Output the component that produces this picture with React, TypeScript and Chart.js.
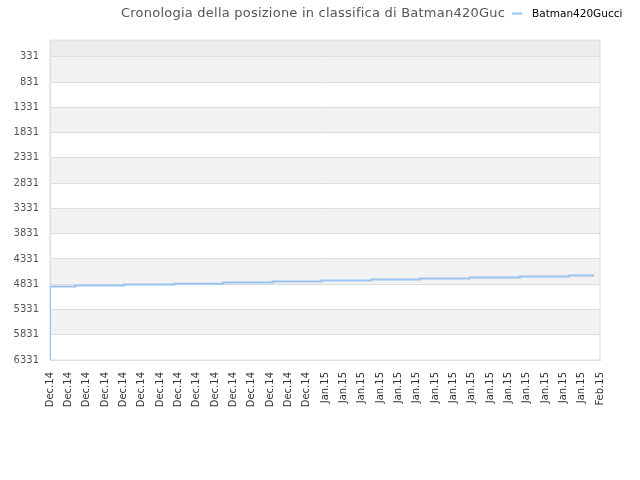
import { useEffect, useRef } from 'react';
import { Chart, ChartConfiguration, Plugin } from 'chart.js/auto';

// tick labels along the bottom (one every ~2 days)
const xLabels = [
  'Dec.14', 'Dec.14', 'Dec.14', 'Dec.14', 'Dec.14', 'Dec.14', 'Dec.14', 'Dec.14',
  'Dec.14', 'Dec.14', 'Dec.14', 'Dec.14', 'Dec.14', 'Dec.14', 'Dec.14',
  'Jan.15', 'Jan.15', 'Jan.15', 'Jan.15', 'Jan.15', 'Jan.15', 'Jan.15', 'Jan.15',
  'Jan.15', 'Jan.15', 'Jan.15', 'Jan.15', 'Jan.15', 'Jan.15', 'Jan.15',
  'Feb.15',
];

const yTicks = [331, 831, 1331, 1831, 2331, 2831, 3331, 3831, 4331, 4831, 5331, 5831, 6331];

// position on the time axis (in tick units) where the rank changes
const stepAt = [0, 0, 1.37, 4.04, 6.78, 9.45, 12.13, 14.81, 17.52, 20.22, 22.9, 25.63, 28.31, 29.67];
const rankValues = [6331, 4879, 4859, 4839, 4820, 4800, 4780, 4760, 4740, 4721, 4701, 4681, 4661, 4661];

const seriesName = 'Batman420Gucci';
const titleText = 'Cronologia della posizione in classifica di Batman420Guc';
const lineColor = '#99c3ef';

const decorations: Plugin = {
  id: 'decorations',
  beforeDraw(chart) {
    const { ctx, chartArea, scales } = chart;
    const y = scales.y;
    ctx.save();
    // top strip above the first tick
    ctx.fillStyle = '#ececec';
    const first = y.getPixelForValue(yTicks[0]);
    ctx.fillRect(chartArea.left, chartArea.top, chartArea.right - chartArea.left, first - chartArea.top);
    // alternating bands
    for (let i = 0; i < yTicks.length - 1; i++) {
      if (i % 2 !== 0) continue;
      const a = y.getPixelForValue(yTicks[i]);
      const b = y.getPixelForValue(yTicks[i + 1]);
      ctx.fillStyle = '#f2f2f2';
      ctx.fillRect(chartArea.left, a, chartArea.right - chartArea.left, b - a);
    }
    ctx.restore();
  },
  beforeDatasetsDraw(chart) {
    const { ctx, chartArea } = chart;
    ctx.save();
    ctx.strokeStyle = '#dddddd';
    ctx.lineWidth = 1;
    ctx.strokeRect(chartArea.left, chartArea.top, chartArea.right - chartArea.left, chartArea.bottom - chartArea.top);
    ctx.restore();
  },
  afterDraw(chart) {
    const { ctx } = chart;
    ctx.save();
    ctx.font = '13px "DejaVu Sans"';
    (ctx as any).letterSpacing = '0.23px';
    ctx.fillStyle = '#555555';
    ctx.textAlign = 'left';
    ctx.textBaseline = 'alphabetic';
    ctx.fillText(titleText, 121, 17);
    (ctx as any).letterSpacing = '0px';
    // legend
    ctx.strokeStyle = lineColor;
    ctx.lineWidth = 2;
    ctx.beginPath();
    ctx.moveTo(512, 13.5);
    ctx.lineTo(522, 13.5);
    ctx.stroke();
    ctx.font = '10.5px "DejaVu Sans"';
    ctx.fillStyle = '#000000';
    ctx.fillText(seriesName, 532, 16.5);
    ctx.restore();
  },
};

export default function App() {
  const canvasRef = useRef<HTMLCanvasElement>(null);

  useEffect(() => {
    document.body.style.margin = '0';
    if (!canvasRef.current) return;

    const config: ChartConfiguration = {
      type: 'line',
      data: {
        datasets: [
          {
            label: seriesName,
            data: stepAt.map((x, i) => ({ x, y: rankValues[i] })),
            borderColor: lineColor,
            backgroundColor: lineColor,
            borderWidth: 2,
            pointRadius: 0,
            stepped: 'before',
            fill: false,
          },
        ],
      },
      options: {
        responsive: false,
        animation: false,
        layout: { padding: { top: 40, right: 40, left: 0, bottom: 0 } },
        plugins: {
          legend: { display: false },
          title: { display: false },
          tooltip: { enabled: false },
        },
        scales: {
          x: {
            type: 'linear',
            min: 0,
            max: xLabels.length - 1,
            afterBuildTicks: (s) => {
              s.ticks = xLabels.map((_, i) => ({ value: i }));
            },
            afterFit: (s) => {
              s.height = 120;
            },
            grid: { display: false, drawTicks: false },
            border: { display: true, color: '#dddddd' },
            ticks: {
              autoSkip: false,
              minRotation: 90,
              maxRotation: 90,
              padding: 12,
              color: '#333333',
              font: { family: 'DejaVu Sans', size: 10 },
              callback: (v) => xLabels[Number(v)] ?? '',
            },
          },
          y: {
            reverse: true,
            min: 0,
            max: 6331,
            afterBuildTicks: (s) => {
              s.ticks = yTicks.map((v) => ({ value: v }));
            },
            afterFit: (s) => {
              s.width = 50;
            },
            grid: { color: '#dddddd', drawTicks: false },
            border: { display: true, color: '#dddddd' },
            ticks: {
              padding: 11,
              color: '#555555',
              font: { family: 'DejaVu Sans', size: 10 },
              callback: (v) => String(v),
            },
          },
        },
      },
      plugins: [decorations],
    };

    const chart = new Chart(canvasRef.current, config);
    return () => chart.destroy();
  }, []);

  return (
    <div style={{ width: 640, height: 480, background: '#ffffff' }}>
      <canvas ref={canvasRef} width={640} height={480} />
    </div>
  );
}
